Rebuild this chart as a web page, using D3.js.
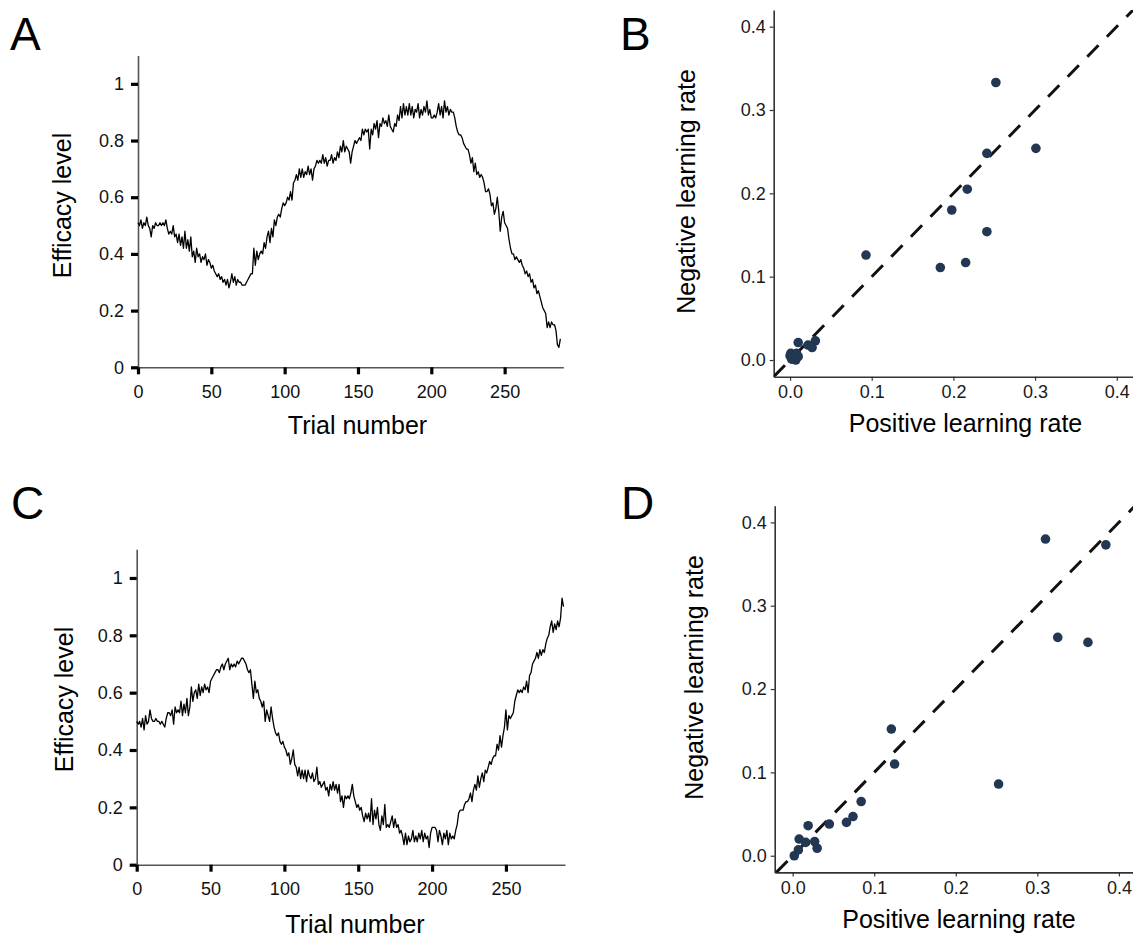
<!DOCTYPE html>
<html>
<head>
<meta charset="utf-8">
<script src="https://cdn.jsdelivr.net/npm/d3@7"></script>
<style>
  html, body { margin: 0; padding: 0; background: #fff; }
  svg { display: block; font-family: "Liberation Sans", Arial, sans-serif; }
</style>
</head>
<body>
<svg id="fig" width="1133" height="939"></svg>
<script>
// Efficacy trajectory, condition A (one value per trial, 0..288)
const efficacyA = [
  0.51,0.50,0.52,0.49,0.51,0.50,0.53,0.50,0.49,0.46,
  0.50,0.49,0.51,0.50,0.50,0.51,0.50,0.51,0.50,0.52,
  0.49,0.47,0.48,0.47,0.50,0.46,0.47,0.44,0.47,0.43,
  0.46,0.42,0.48,0.42,0.45,0.41,0.46,0.39,0.41,0.37,
  0.42,0.39,0.40,0.37,0.39,0.38,0.40,0.36,0.38,0.37,
  0.35,0.36,0.34,0.33,0.32,0.33,0.31,0.32,0.30,0.31,
  0.29,0.31,0.28,0.30,0.33,0.30,0.32,0.29,0.31,0.30,
  0.30,0.29,0.29,0.29,0.30,0.31,0.32,0.33,0.33,0.42,
  0.36,0.41,0.38,0.40,0.41,0.40,0.44,0.42,0.46,0.48,
  0.44,0.49,0.46,0.52,0.50,0.53,0.54,0.53,0.56,0.58,
  0.57,0.58,0.60,0.59,0.62,0.59,0.65,0.66,0.68,0.66,
  0.70,0.67,0.70,0.67,0.69,0.68,0.71,0.68,0.70,0.66,
  0.70,0.71,0.73,0.72,0.73,0.72,0.75,0.72,0.74,0.71,
  0.73,0.73,0.75,0.72,0.74,0.73,0.76,0.74,0.78,0.76,
  0.80,0.76,0.78,0.77,0.76,0.72,0.76,0.78,0.80,0.79,
  0.80,0.81,0.80,0.84,0.82,0.84,0.83,0.84,0.77,0.84,
  0.82,0.86,0.84,0.87,0.81,0.86,0.85,0.88,0.86,0.87,
  0.85,0.89,0.85,0.84,0.83,0.86,0.85,0.89,0.87,0.92,
  0.88,0.93,0.89,0.92,0.89,0.93,0.89,0.92,0.88,0.91,
  0.90,0.93,0.88,0.91,0.89,0.92,0.90,0.94,0.89,0.91,
  0.88,0.88,0.89,0.88,0.90,0.93,0.89,0.92,0.88,0.94,
  0.90,0.92,0.89,0.91,0.90,0.90,0.88,0.85,0.83,0.82,
  0.82,0.81,0.79,0.78,0.77,0.77,0.75,0.72,0.74,0.69,
  0.72,0.68,0.69,0.67,0.68,0.67,0.65,0.62,0.62,0.63,
  0.61,0.57,0.58,0.54,0.56,0.60,0.55,0.48,0.53,0.55,
  0.51,0.50,0.49,0.45,0.42,0.40,0.40,0.38,0.39,0.38,
  0.37,0.38,0.36,0.35,0.33,0.34,0.32,0.33,0.30,0.31,
  0.28,0.29,0.26,0.27,0.25,0.23,0.21,0.20,0.19,0.14,
  0.16,0.14,0.16,0.15,0.15,0.13,0.08,0.07,0.10
];

// Efficacy trajectory, condition C (one value per trial, 0..289)
const efficacyC = [
  0.50,0.49,0.50,0.48,0.51,0.47,0.52,0.49,0.50,0.54,
  0.51,0.50,0.50,0.51,0.50,0.50,0.49,0.50,0.49,0.48,
  0.51,0.53,0.53,0.52,0.54,0.49,0.55,0.53,0.54,0.53,
  0.57,0.52,0.56,0.53,0.58,0.52,0.55,0.62,0.57,0.60,
  0.61,0.58,0.63,0.59,0.62,0.60,0.63,0.61,0.62,0.60,
  0.64,0.65,0.66,0.67,0.68,0.68,0.67,0.69,0.70,0.68,
  0.70,0.71,0.72,0.68,0.70,0.69,0.70,0.69,0.71,0.70,
  0.71,0.72,0.72,0.71,0.70,0.68,0.67,0.68,0.63,0.58,
  0.64,0.60,0.61,0.58,0.57,0.55,0.57,0.50,0.54,0.52,
  0.50,0.55,0.51,0.48,0.46,0.45,0.46,0.43,0.42,0.43,
  0.41,0.40,0.38,0.39,0.35,0.37,0.40,0.35,0.34,0.31,
  0.34,0.30,0.33,0.30,0.33,0.29,0.33,0.31,0.30,0.32,
  0.29,0.30,0.34,0.28,0.29,0.27,0.28,0.29,0.26,0.27,
  0.24,0.28,0.26,0.29,0.26,0.28,0.25,0.28,0.22,0.24,
  0.20,0.24,0.23,0.24,0.23,0.25,0.28,0.24,0.22,0.20,
  0.21,0.19,0.20,0.17,0.15,0.18,0.16,0.18,0.15,0.23,
  0.14,0.19,0.16,0.20,0.14,0.12,0.17,0.14,0.21,0.13,
  0.14,0.13,0.15,0.17,0.13,0.16,0.13,0.14,0.11,0.12,
  0.10,0.07,0.11,0.07,0.10,0.08,0.09,0.12,0.08,0.10,
  0.08,0.11,0.09,0.12,0.08,0.11,0.09,0.10,0.06,0.11,
  0.13,0.13,0.13,0.12,0.08,0.12,0.10,0.07,0.11,0.09,
  0.12,0.07,0.11,0.09,0.10,0.09,0.12,0.14,0.18,0.19,
  0.19,0.19,0.21,0.22,0.22,0.23,0.25,0.22,0.26,0.28,
  0.26,0.31,0.27,0.30,0.32,0.29,0.33,0.32,0.34,0.36,
  0.35,0.37,0.38,0.38,0.42,0.40,0.45,0.41,0.45,0.48,
  0.54,0.47,0.52,0.51,0.52,0.53,0.57,0.59,0.61,0.60,
  0.61,0.60,0.62,0.61,0.64,0.60,0.66,0.67,0.70,0.71,
  0.72,0.74,0.72,0.75,0.73,0.75,0.74,0.77,0.79,0.80,
  0.83,0.85,0.81,0.84,0.82,0.85,0.83,0.86,0.93,0.90
];

// Learning-rate estimates per participant, condition B
const posRateB = [0.252,0.301,0.241,0.217,0.198,0.241,0.215,0.184,0.093,0.010,0.031,0.022,0.027,0.001,0.008,0.002,0.007,0.010,0.000];
const negRateB = [0.333,0.254,0.248,0.205,0.180,0.154,0.117,0.111,0.126,0.021,0.023,0.018,0.015,0.008,0.008,0.001,0.000,0.004,0.005];

// Learning-rate estimates per participant, condition D
const posRateD = [0.310,0.384,0.325,0.362,0.2525,0.121,0.125,0.084,0.074,0.066,0.045,0.019,0.008,0.016,0.027,0.030,0.007,0.002];
const negRateD = [0.380,0.373,0.262,0.256,0.086,0.152,0.110,0.065,0.047,0.040,0.038,0.036,0.020,0.016,0.017,0.009,0.007,0.000];

// Tick values
const efficacyTicks = [0, 0.2, 0.4, 0.6, 0.8, 1];
const trialTicks = [0, 50, 100, 150, 200, 250];
const rateTicks = [0, 0.1, 0.2, 0.3, 0.4];

const svg = d3.select("#fig");
svg.append("rect").attr("width", 1133).attr("height", 939).attr("fill", "#fff");

const FONT_TICK = 18;
const FONT_TITLE = 25;

function panelLetter(letter, x, y) {
  svg.append("text").attr("x", x).attr("y", y)
    .attr("font-size", 46).attr("fill", "#000").text(letter);
}

// Line panel: efficacy level over trials
function linePanel(cfg) {
  const x = d3.scaleLinear().domain([0, 290]).range([cfg.x0, cfg.x1]);
  const y = d3.scaleLinear().domain([0, 1.1]).range([cfg.y0, cfg.y1]);
  const g = svg.append("g");

  const yAxis = d3.axisLeft(y).tickValues(efficacyTicks)
    .tickFormat(d => d3.format("~g")(d)).tickSize(7).tickSizeOuter(0).tickPadding(7);
  const xAxis = d3.axisBottom(x).tickValues(trialTicks)
    .tickFormat(d3.format("d")).tickSize(7).tickSizeOuter(0).tickPadding(11);

  const gy = g.append("g").attr("transform", `translate(${cfg.x0},0)`).call(yAxis);
  const gx = g.append("g").attr("transform", `translate(0,${cfg.y0})`).call(xAxis);
  [gx, gy].forEach(a => {
    a.select(".domain").attr("stroke", "#555").attr("stroke-width", 1.6);
    a.selectAll(".tick line").attr("stroke", "#000").attr("stroke-width", 3.2);
    a.selectAll(".tick text").attr("font-size", FONT_TICK).attr("fill", "#111")
      .attr("font-family", "Liberation Sans, Arial, sans-serif");
  });

  const line = d3.line().x((d, i) => x(i)).y(d => y(d));
  g.append("path").datum(cfg.data).attr("d", line)
    .attr("fill", "none").attr("stroke", "#000").attr("stroke-width", 1.3)
    .attr("stroke-linejoin", "round");

  g.append("text").attr("transform", `translate(${cfg.ylabX},${cfg.ylabY}) rotate(-90)`)
    .attr("text-anchor", "middle").attr("font-size", FONT_TITLE).attr("fill", "#000")
    .text("Efficacy level");
  g.append("text").attr("x", cfg.xlabX).attr("y", cfg.xlabY)
    .attr("text-anchor", "middle").attr("font-size", FONT_TITLE).attr("fill", "#000")
    .text("Trial number");
}

// Scatter panel: negative vs positive learning rate with identity line
function scatterPanel(cfg) {
  const x = d3.scaleLinear().domain(cfg.xDom).range([cfg.x0, cfg.x1]);
  const y = d3.scaleLinear().domain(cfg.yDom).range([cfg.y0, cfg.y1]);
  const g = svg.append("g");
  const clipId = "clip" + cfg.id;
  g.append("clipPath").attr("id", clipId).append("rect")
    .attr("x", cfg.x0).attr("y", cfg.y1)
    .attr("width", cfg.x1 - cfg.x0).attr("height", cfg.y0 - cfg.y1);

  const yAxis = d3.axisLeft(y).tickValues(rateTicks).tickFormat(d3.format(".1f"))
    .tickSize(4).tickSizeOuter(0).tickPadding(4);
  const xAxis = d3.axisBottom(x).tickValues(rateTicks).tickFormat(d3.format(".1f"))
    .tickSize(4).tickSizeOuter(0).tickPadding(5);
  const gy = g.append("g").attr("transform", `translate(${cfg.x0},0)`).call(yAxis);
  const gx = g.append("g").attr("transform", `translate(0,${cfg.y0})`).call(xAxis);
  [gx, gy].forEach(a => {
    a.select(".domain").attr("stroke", "#333").attr("stroke-width", 1.6);
    a.selectAll(".tick line").attr("stroke", "#333").attr("stroke-width", 1.2);
    a.selectAll(".tick text").attr("font-size", FONT_TICK).attr("fill", "#1a1a1a")
      .attr("font-family", "Liberation Sans, Arial, sans-serif");
  });

  // identity line starting at the lower-left corner of the panel
  const lo = Math.max(cfg.xDom[0], cfg.yDom[0]);
  const hi = Math.max(cfg.xDom[1], cfg.yDom[1]) + 0.01;
  g.append("line").attr("clip-path", `url(#${clipId})`)
    .attr("x1", x(lo)).attr("y1", y(lo)).attr("x2", x(hi)).attr("y2", y(hi))
    .attr("stroke", "#111").attr("stroke-width", 3).attr("stroke-dasharray", "16,12");

  const pts = cfg.pos.map((p, i) => ({ p, n: cfg.neg[i] }));
  g.append("g").selectAll("circle").data(pts).join("circle")
    .attr("cx", d => x(d.p)).attr("cy", d => y(d.n)).attr("r", 4.8)
    .attr("fill", "#213752");

  g.append("text").attr("transform", `translate(${cfg.ylabX},${cfg.ylabY}) rotate(-90)`)
    .attr("text-anchor", "middle").attr("font-size", FONT_TITLE).attr("fill", "#000")
    .text("Negative learning rate");
  g.append("text").attr("x", cfg.xlabX).attr("y", cfg.xlabY)
    .attr("text-anchor", "middle").attr("font-size", FONT_TITLE).attr("fill", "#000")
    .text("Positive learning rate");
}

linePanel({ data: efficacyA, x0: 138, x1: 563.3, y0: 367.3, y1: 55.5,
  ylabX: 71, ylabY: 205.5, xlabX: 357.5, xlabY: 434 });
linePanel({ data: efficacyC, x0: 136.7, x1: 565, y0: 864.7, y1: 549.3,
  ylabX: 73, ylabY: 699.5, xlabX: 355, xlabY: 933 });

scatterPanel({ id: "B", pos: posRateB, neg: negRateB,
  xDom: [-0.02, 0.42], yDom: [-0.02, 0.42],
  x0: 773.7, x1: 1133.1, y0: 376.7, y1: 10,
  ylabX: 695, ylabY: 191.5, xlabX: 965.5, xlabY: 432 });
scatterPanel({ id: "D", pos: posRateD, neg: negRateD,
  xDom: [-0.022, 0.418], yDom: [-0.02, 0.42],
  x0: 774.7, x1: 1133.6, y0: 872.4, y1: 505.7,
  ylabX: 703, ylabY: 677.5, xlabX: 959, xlabY: 928 });

panelLetter("A", 10, 50);
panelLetter("B", 620, 50);
panelLetter("C", 11, 519);
panelLetter("D", 621, 519);
</script>
</body>
</html>
